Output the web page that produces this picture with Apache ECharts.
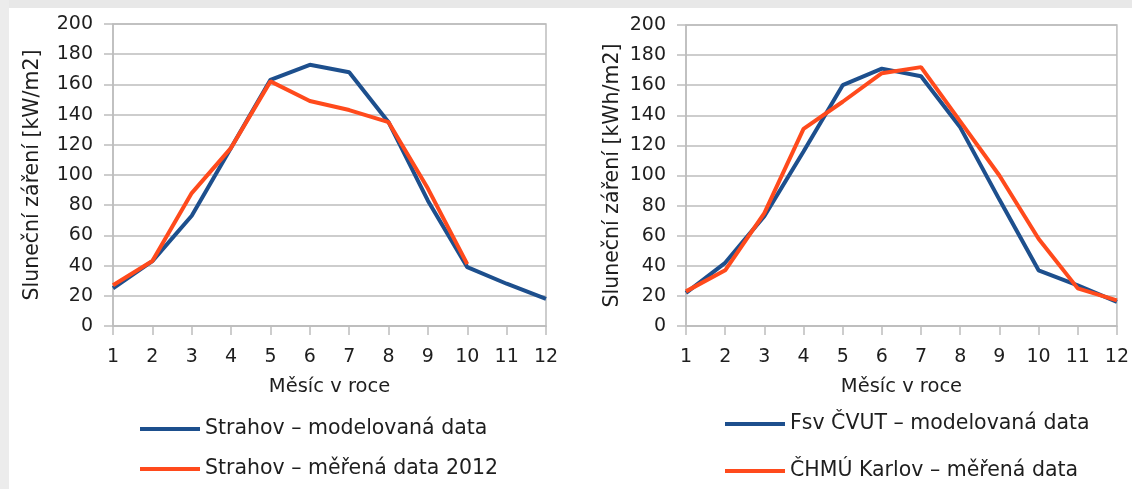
<!DOCTYPE html>
<html>
<head>
<meta charset="utf-8">
<script src="https://cdn.jsdelivr.net/npm/echarts@6/dist/echarts.min.js"></script>
<style>
  html, body { margin: 0; padding: 0; background: #ffffff; }
  #chart { width: 1132px; height: 489px; }
</style>
</head>
<body>
<div id="chart"></div>
<script>
// Months of the year
const months = ['1', '2', '3', '4', '5', '6', '7', '8', '9', '10', '11', '12'];
const yTicks = [0, 20, 40, 60, 80, 100, 120, 140, 160, 180, 200];

// Strahov
const strahovModel = [25, 43, 73, 118, 163, 173, 168, 135, 83, 39, 28, 18];
const strahovMeasured2012 = [27, 43, 88, 118, 162, 149, 143, 135, 91, 41, null, null];

// Fsv ČVUT vs ČHMÚ Karlov
const fsvModel = [22, 42, 73, 116, 160, 171, 166, 132, 84, 37, 27, 16];
const karlovMeasured = [23, 37, 75, 131, 149, 168, 172, 136, 100, 58, 25, 17];

const BLUE = '#1d4f8d';
const RED = '#ff4a1c';
const GRID = '#bdbdbd';
const TEXT = '#1e1e1e';
const FONT = 'DejaVu Sans';

function xAxisFor(gridIndex) {
  return {
    type: 'category', gridIndex, data: months, boundaryGap: false,
    name: 'Měsíc v roce', nameLocation: 'middle', nameGap: 51,
    nameTextStyle: { color: TEXT, fontSize: 19.5, fontFamily: FONT },
    axisLine: { lineStyle: { color: GRID, width: 1.5 } },
    axisTick: { show: true, length: 9, lineStyle: { color: GRID, width: 1.5 } },
    axisLabel: { color: TEXT, fontSize: 19, fontFamily: FONT, margin: 22 },
    splitLine: { show: false }
  };
}
function yAxisFor(gridIndex, name, gap) {
  return {
    type: 'value', gridIndex, min: yTicks[0], max: yTicks[yTicks.length - 1], interval: 20,
    name, nameLocation: 'middle', nameGap: gap,
    nameTextStyle: { color: TEXT, fontSize: 20.5, fontFamily: FONT },
    axisLine: { show: true, lineStyle: { color: GRID, width: 1.5 } },
    axisTick: { show: true, length: 9, lineStyle: { color: GRID, width: 1.5 } },
    axisLabel: { color: TEXT, fontSize: 19, fontFamily: FONT, margin: 20 },
    splitLine: { show: true, lineStyle: { color: GRID, width: 1.5 } }
  };
}
function lineSeries(name, data, color, idx) {
  return {
    type: 'line', name, data, xAxisIndex: idx, yAxisIndex: idx,
    showSymbol: false, symbol: 'none', connectNulls: false,
    lineStyle: { color, width: 4 }, itemStyle: { color },
    animation: false
  };
}
function legendFor(names, left, top, gap) {
  return {
    data: names, orient: 'vertical', left, top, itemGap: gap, padding: 0,
    height: 80,
    icon: 'rect', itemWidth: 60, itemHeight: 4,
    textStyle: { color: TEXT, fontSize: 20.5, lineHeight: 24, fontFamily: FONT, padding: [0, 0, 0, 0] },
    selectedMode: false
  };
}

const chart = echarts.init(document.getElementById('chart'), null, { renderer: 'canvas' });
chart.setOption({
  backgroundColor: '#ffffff',
  animation: false,
  graphic: [
    { type: 'rect', left: 0, top: 0, shape: { width: 1132, height: 8 }, style: { fill: '#e8e8e8' }, z: -10 },
    { type: 'rect', left: 0, top: 0, shape: { width: 9, height: 489 }, style: { fill: '#ececec' }, z: -10 }
  ],
  grid: [
    { left: 113, right: 586, top: 24, bottom: 163, show: true, borderColor: GRID, borderWidth: 1.5, backgroundColor: 'transparent' },
    { left: 686, right: 13, top: 25, bottom: 163, show: true, borderColor: GRID, borderWidth: 1.5, backgroundColor: 'transparent' }
  ],
  legend: [
    legendFor(['Strahov – modelovaná data', 'Strahov – měřená data 2012'], 140, 417, 16),
    legendFor(['Fsv ČVUT – modelovaná data', 'ČHMÚ Karlov – měřená data'], 725, 412, 23)
  ],
  xAxis: [xAxisFor(0), xAxisFor(1)],
  yAxis: [
    yAxisFor(0, 'Sluneční záření [kW/m2]', 70),
    yAxisFor(1, 'Sluneční záření [kWh/m2]', 63)
  ],
  series: [
    lineSeries('Strahov – modelovaná data', strahovModel, BLUE, 0),
    lineSeries('Strahov – měřená data 2012', strahovMeasured2012, RED, 0),
    lineSeries('Fsv ČVUT – modelovaná data', fsvModel, BLUE, 1),
    lineSeries('ČHMÚ Karlov – měřená data', karlovMeasured, RED, 1)
  ]
});
</script>
</body>
</html>
